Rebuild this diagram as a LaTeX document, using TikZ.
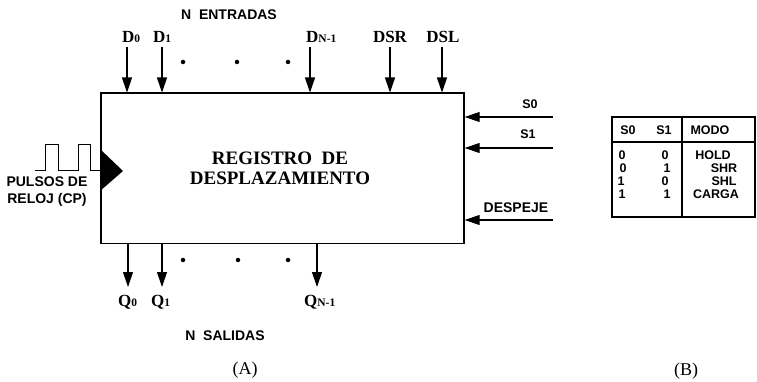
\documentclass[tikz,border=0pt]{standalone}
\usepackage{fontspec}
\setmainfont{Liberation Serif}
\setsansfont{Liberation Sans}
\usetikzlibrary{arrows.meta}
\tikzset{
 sig/.style={line width=1.1pt,-{Triangle[length=15pt,width=10pt]}},
 slab/.style={font=\sffamily\bfseries\fontsize{14}{17}\selectfont, inner sep=0pt},
 dlab/.style={font=\bfseries\fontsize{17}{17}\selectfont, inner sep=0pt},
 tlab/.style={font=\sffamily\bfseries\fontsize{12.5}{12.5}\selectfont, inner sep=0pt},
 captext/.style={font=\fontsize{18}{18}\selectfont, inner sep=0pt},
 dotc/.style={circle,fill,inner sep=0pt,minimum size=4.5pt},
}
\newcommand{\mysub}[1]{{\fontsize{11.5}{11.5}\selectfont #1}}
\begin{document}
\begin{tikzpicture}[x=1pt,y=-1pt]
\useasboundingbox (0,0) rectangle (757,382);
% main block
\node[draw,line width=1.7pt,minimum width=363pt,minimum height=150pt,anchor=north west,inner sep=0pt] (reg) at (100,92.5) {};
\node[font=\bfseries\fontsize{19}{20}\selectfont, align=center, inner sep=0pt] (title) at (280,168) {REGISTRO\ \ DE\\DESPLAZAMIENTO};
% inputs
\node[slab] (nent) at (229,15) {N\ \ ENTRADAS};
\node[dlab,anchor=base west] (d0) at (122,43) {D\mysub{0}};
\node[dlab,anchor=base west] (d1) at (153,43) {D\mysub{1}};
\node[dlab,anchor=base west] (dn) at (306,43) {D\mysub{N-1}};
\node[dlab,anchor=base] (dsr) at (390,43) {DSR};
\node[dlab,anchor=base] (dsl) at (443,43) {DSL};
\coordinate (d0s) at (127,47);
\coordinate (d1s) at (162,47);
\coordinate (dns) at (310,47);
\coordinate (dsrs) at (390,47);
\coordinate (dsls) at (442,47);
\foreach \c in {d0s,d1s,dns,dsrs,dsls}{\draw[sig] (\c) -- (\c |- reg.north);}
\node[dotc] (ta) at (183,62) {};
\node[dotc] (tb) at (237,62) {};
\node[dotc] (tc) at (288,62) {};
% control inputs
\node[tlab] (s0) at (530,104) {S0};
\node[tlab] (s1) at (528,134) {S1};
\node[slab] (desp) at (516,208) {DESPEJE};
\coordinate (s0s) at (553,117);
\coordinate (s1s) at (553,148);
\coordinate (desps) at (553,220);
\foreach \c in {s0s,s1s,desps}{\draw[sig] (\c) -- (\c -| reg.east);}
% clock
\fill (100,149) -- (123,171) -- (100,191) -- cycle;
\draw[line width=1pt] (35,171) -- (45,171) -- (45,145) -- (58,145) -- (58,171) -- (78,171) -- (78,145) -- (90,145) -- (90,171) -- (100,171);
\node[slab,align=center] (clk) at (47,192) {PULSOS DE\\RELOJ (CP)};
% outputs
\coordinate (q0e) at (128,287);
\coordinate (q1e) at (162,287);
\coordinate (qne) at (317,287);
\foreach \c in {q0e,q1e,qne}{\draw[sig] (reg.south -| \c) -- (\c);}
\node[dlab,anchor=base west] (q0) at (118,306) {Q\mysub{0}};
\node[dlab,anchor=base west] (q1) at (151,306) {Q\mysub{1}};
\node[dlab,anchor=base west] (qn) at (304,306) {Q\mysub{N-1}};
\node[dotc] (ba) at (183,260) {};
\node[dotc] (bb) at (238,260) {};
\node[dotc] (bc) at (288,260) {};
\node[slab] (nsal) at (225,336) {N\ \ SALIDAS};
\node[captext] (capa) at (245,370) {(A)};
% table
\draw[line width=1.3pt] (612,117) rectangle (755,217);
\draw[line width=1.3pt] (612,142) -- (755,142);
\draw[line width=1.3pt] (682,117) -- (682,217);
\node[tlab] (h1) at (628,130) {S0};
\node[tlab] (h2) at (664,130) {S1};
\node[tlab] (h3) at (710,130) {MODO};
\node[tlab] (r11) at (622,155) {0};
\node[tlab] (r12) at (665,155) {0};
\node[tlab] (r13) at (713,155) {HOLD};
\node[tlab] (r21) at (623,168) {0};
\node[tlab] (r22) at (667,168) {1};
\node[tlab] (r23) at (724,168) {SHR};
\node[tlab] (r31) at (621,181) {1};
\node[tlab] (r32) at (665,181) {0};
\node[tlab] (r33) at (724,181) {SHL};
\node[tlab] (r41) at (622,194) {1};
\node[tlab] (r42) at (667,194) {1};
\node[tlab] (r43) at (716,194) {CARGA};
\node[captext] (capb) at (686,371) {(B)};
\end{tikzpicture}
\end{document}
